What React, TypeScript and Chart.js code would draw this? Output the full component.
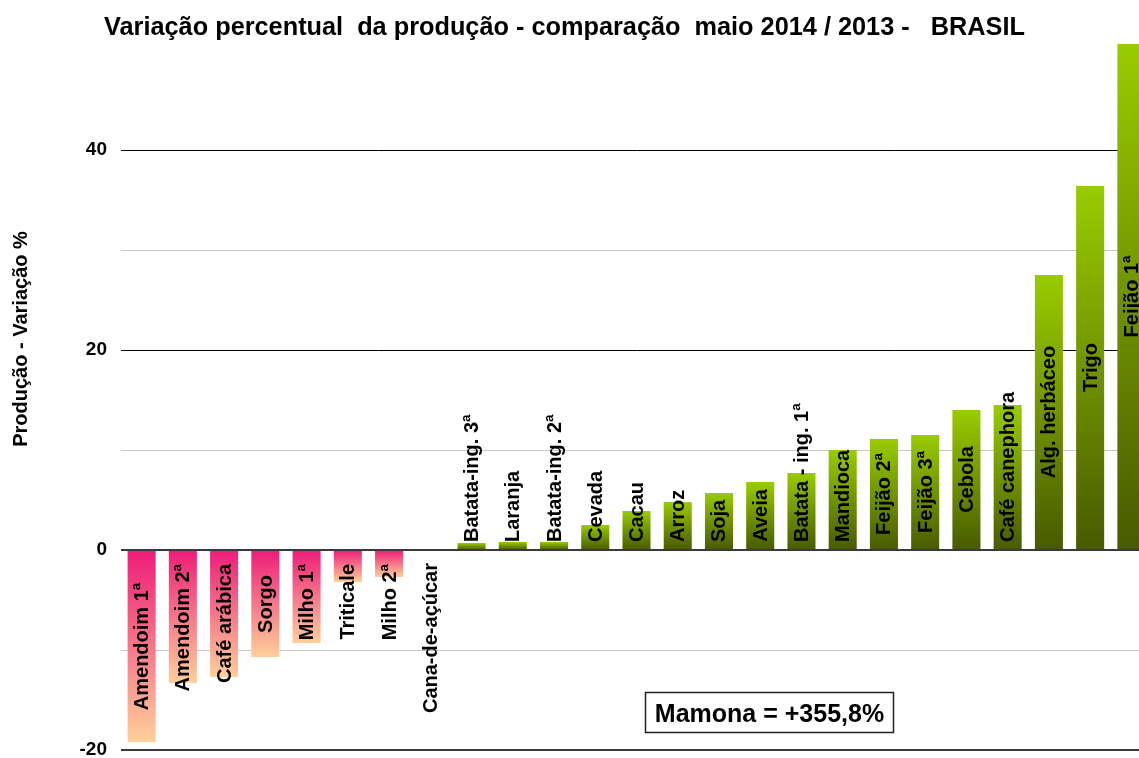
import React, { useEffect, useRef } from "react";
import { Chart, registerables } from "chart.js";

Chart.register(...registerables);

const categories: string[] = [
  "Amendoim 1ª", "Amendoim 2ª", "Café arábica", "Sorgo", "Milho 1ª", "Triticale", "Milho 2ª",
  "Cana-de-açúcar", "Batata-ing. 3ª", "Laranja", "Batata-ing. 2ª", "Cevada", "Cacau", "Arroz",
  "Soja", "Aveia", "Batata - ing. 1ª", "Mandioca", "Feijão 2ª", "Feijão 3ª", "Cebola",
  "Café canephora", "Alg. herbáceo", "Trigo", "Feijão 1ª",
];

const variation: number[] = [
  -19.2, -13.3, -12.7, -10.7, -9.3, -3.2, -2.7,
  0, 0.7, 0.8, 0.8, 2.5, 3.9, 4.8,
  5.7, 6.8, 7.7, 10.0, 11.1, 11.5, 14.0,
  14.5, 27.5, 36.4, 50.6,
];

const yMin = -20;
const yMax = 50;
const yStep = 10;
const labelEvery = 20;

const chartTitle = "Variação percentual  da produção - comparação  maio 2014 / 2013 -   BRASIL";
const yTitle = "Produção - Variação %";
const note = "Mamona = +355,8%";

const FONT = "'Liberation Sans', Arial, sans-serif";

const annotations = {
  id: "annotations",
  afterDatasetsDraw(chart: any) {
    const ctx = chart.ctx as CanvasRenderingContext2D;
    const meta = chart.getDatasetMeta(0);
    ctx.save();
    ctx.fillStyle = "#000";
    ctx.font = `bold 20px ${FONT}`;
    ctx.textAlign = "left";
    ctx.textBaseline = "middle";
    meta.data.forEach((bar: any, i: number) => {
      const v = variation[i];
      const text = categories[i];
      const w = ctx.measureText(text).width;
      const { x, y, base } = bar.getProps(["x", "y", "base"], true);
      const center = (y + base) / 2;
      let start: number;
      if (v > 0) {
        start = Math.min(center + w / 2, base - 7);
      } else {
        const top = Math.max(center - w / 2, base + 13);
        start = top + w;
      }
      ctx.save();
      ctx.translate(x, start);
      ctx.rotate(-Math.PI / 2);
      ctx.fillText(text, 0, 1);
      ctx.restore();
    });

    // chart title
    ctx.font = `bold 25.3px ${FONT}`;
    ctx.textAlign = "center";
    ctx.textBaseline = "alphabetic";
    ctx.fillText(chartTitle, 564.5, 35);

    // y axis title
    ctx.save();
    ctx.font = `bold 20px ${FONT}`;
    ctx.translate(26.5, 339);
    ctx.rotate(-Math.PI / 2);
    ctx.textAlign = "center";
    ctx.fillText(yTitle, 0, 0);
    ctx.restore();

    // note box
    ctx.font = `bold 25px ${FONT}`;
    ctx.fillStyle = "#fff";
    ctx.fillRect(645, 692, 249, 41);
    ctx.strokeStyle = "#222";
    ctx.lineWidth = 1.5;
    ctx.strokeRect(645.5, 692.5, 248, 40);
    ctx.fillStyle = "#000";
    ctx.textAlign = "center";
    ctx.fillText(note, 769.5, 722);
    ctx.restore();
  },
};

export default function App() {
  const ref = useRef<HTMLCanvasElement | null>(null);

  useEffect(() => {
    if (!ref.current) return;
    const chart = new Chart(ref.current, {
      type: "bar",
      data: {
        labels: categories,
        datasets: [
          {
            data: variation,
            clip: false as any,
            barPercentage: 0.68,
            categoryPercentage: 1,
            borderWidth: 0,
            backgroundColor: (c: any) => {
              const ch = c.chart;
              if (c.type !== "data" || !ch.chartArea) return "#99CC00";
              const v = c.raw as number;
              const y0 = ch.scales.y.getPixelForValue(0);
              const y1 = ch.scales.y.getPixelForValue(v);
              if (Math.abs(y1 - y0) < 0.5) return v >= 0 ? "#4A5E00" : "#EE1C79";
              const g = ch.ctx.createLinearGradient(0, Math.min(y0, y1), 0, Math.max(y0, y1));
              if (v >= 0) {
                g.addColorStop(0, "#99CC00");
                g.addColorStop(1, "#485A00");
              } else {
                g.addColorStop(0, "#EE1C79");
                g.addColorStop(1, "#FFD09A");
              }
              return g;
            },
          },
        ],
      },
      options: {
        responsive: true,
        maintainAspectRatio: false,
        animation: false,
        events: [],
        layout: { autoPadding: false, padding: { top: 50, bottom: 8, left: 0, right: 0 } },
        plugins: {
          legend: { display: false },
          title: { display: false },
          tooltip: { enabled: false },
        },
        scales: {
          x: { display: false },
          y: {
            min: yMin,
            max: yMax,
            afterFit: (s: any) => {
              s.width = 121;
              s.paddingTop = 0;
              s.paddingBottom = 0;
            },
            border: { display: false },
            grid: {
              drawTicks: false,
              color: (c: any) => {
                const v = c.tick.value;
                if (v === yMax) return "rgba(0,0,0,0)";
                if (v === 0 || v === yMin) return "#3a3a3a";
                return v % labelEvery === 0 ? "#000" : "#c8c8c8";
              },
              lineWidth: (c: any) => {
                const v = c.tick.value;
                return v === 0 || v === yMin ? 2 : 1;
              },
            },
            ticks: {
              stepSize: yStep,
              padding: 14,
              color: "#000",
              font: { family: FONT, size: 19, weight: "bold" },
              callback: (v: any) => (Number(v) % labelEvery === 0 ? String(v) : ""),
            },
          },
        },
      },
      plugins: [annotations],
    });
    return () => chart.destroy();
  }, []);

  return (
    <div
      style={{
        position: "fixed",
        left: 0,
        top: 0,
        width: 1139,
        height: 758,
        overflow: "hidden",
        background: "#fff",
      }}
    >
      <div style={{ position: "relative", width: 1152, height: 758 }}>
        <canvas ref={ref} style={{ display: "block" }} />
      </div>
    </div>
  );
}
